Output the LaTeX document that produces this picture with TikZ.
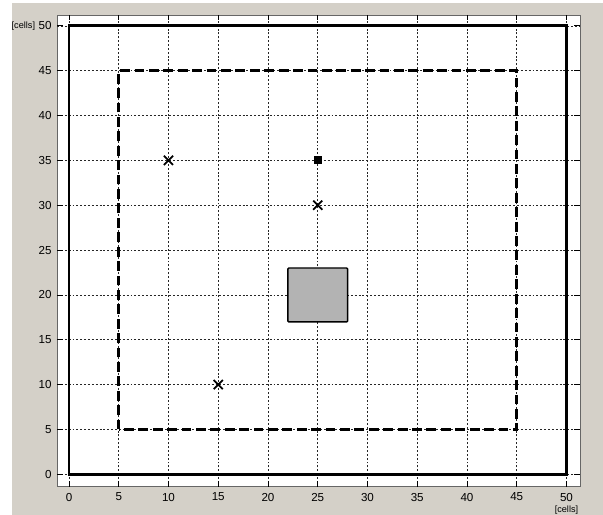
\documentclass[tikz,border=0pt]{standalone}
\usepackage{fontspec}
\setmainfont{Liberation Sans}
\usetikzlibrary{positioning, shapes.misc}

\definecolor{figGray}{RGB}{212,208,200}
\definecolor{obstacleGray}{RGB}{179,179,179}

\begin{document}
\begin{tikzpicture}[
    x=0.199cm, y=0.1794cm,
    ticklabel/.style={font=\fontsize{6.6}{7}\selectfont, inner sep=1pt},
    unitlabel/.style={font=\fontsize{5.2}{6}\selectfont, inner sep=1pt},
    gridline/.style={black!85, line width=0.35pt, dash pattern=on 1.1pt off 1.1pt},
    border/.style={line width=1.7pt},
    zone/.style={line width=1.7pt, dash pattern=on 5.6pt off 2.6pt},
    cross/.style={cross out, draw, line width=1pt, minimum size=4.2pt, inner sep=0pt},
    beacon/.style={rectangle, fill=black, minimum size=4.6pt, inner sep=0pt},
]

% ============================================================
% FIGURE BACKGROUND AND AXES BOX
% ============================================================
\useasboundingbox (-6.935,-4.537) rectangle (53.67,52.88);
\fill[figGray] (-5.73,-4.537) rectangle (53.67,52.54);
\fill[white, draw=black!60, line width=0.4pt] (-1.2,-1.38) rectangle (51.35,51.2);

% grid (dotted) every 5 cells
\foreach \v in {0,5,...,50} {
    \draw[gridline] (\v,-1.38) -- (\v,51.2);
    \draw[gridline] (-1.2,\v) -- (51.35,\v);
}

% ticks on all four sides, pointing inward
\foreach \v in {0,5,...,50} {
    \draw[black, line width=0.4pt] (\v,-1.38) -- ++(0,0.6);
    \draw[black, line width=0.4pt] (\v,51.2) -- ++(0,-0.6);
    \draw[black, line width=0.4pt] (-1.2,\v) -- ++(0.55,0);
    \draw[black, line width=0.4pt] (51.35,\v) -- ++(-0.55,0);
}

% tick labels
\foreach \v in {0,5,...,50} {
    \node[ticklabel, anchor=north] (xl\v) at (\v,-1.85) {\v};
    \node[ticklabel, anchor=east] (yl\v) at (-1.55,\v) {\v};
}
\node[unitlabel, anchor=east] (yunit) at (-3.2,50) {[cells]};
\node[unitlabel, below=0.3pt of xl50] (xunit) {[cells]};

% ============================================================
% AREA BORDERS
% ============================================================
% outer area (solid)
\draw[border] (0,0) rectangle (50,50);
% inner zone (dashed)
\draw[zone] (5,5) rectangle (45,45);

% obstacle
\draw[fill=obstacleGray, line width=0.8pt, rounded corners=0.5pt] (22,17) rectangle (28,23);

% ============================================================
% POINTS
% ============================================================
\node[cross] (p1) at (10,35) {};
\node[cross] (p2) at (25,30) {};
\node[cross] (p3) at (15,10) {};
\node[beacon] (b1) at (25,35) {};

\end{tikzpicture}
\end{document}
